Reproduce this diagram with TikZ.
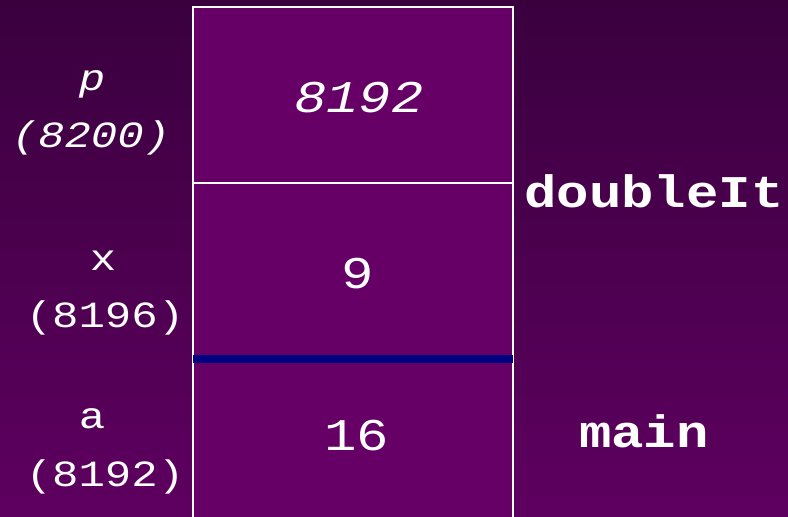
\documentclass[tikz,border=0pt]{standalone}
\usepackage{fontspec}
\usepackage{graphicx}
\setmonofont{Liberation Mono}
\definecolor{bgtop}{RGB}{58,0,62}
\definecolor{bgbot}{RGB}{94,0,96}
\definecolor{cellfill}{RGB}{102,0,102}
\definecolor{frameblue}{RGB}{0,0,128}
\newcommand{\sq}[1]{\scalebox{1}[0.84]{#1}}
\tikzset{
  lbl/.style={text=white,font=\fontsize{44}{44}\selectfont\ttfamily,anchor=base,inner sep=0pt},
  val/.style={text=white,font=\fontsize{54}{54}\selectfont\ttfamily,anchor=base,inner sep=0pt},
  fname/.style={text=white,font=\fontsize{54}{54}\selectfont\ttfamily\bfseries,anchor=base,inner sep=0pt},
  cell/.style={draw=white,line width=2pt,fill=cellfill}
}
\begin{document}
\begin{tikzpicture}[x=1pt,y=-1pt]
\useasboundingbox (0,0) rectangle (788,517);
\shade[top color=bgtop,bottom color=bgbot] (0,0) rectangle (788,517);
% cells
\draw[cell] (193,7) rectangle (513,183);
\draw[cell] (193,183) rectangle (513,358);
\draw[cell] (193,358) rectangle (513,530);
\draw[frameblue,line width=8pt] (193,358.5) -- (513,358.5);
% values
\node[val] (v1) at (359,112) {\sq{\itshape 8192}};
\node[val] (v2) at (358,288) {\sq{9}};
\node[val] (v3) at (357,450) {\sq{16}};
% labels
\node[lbl] (l1) at (92,90) {\sq{\itshape p}};
\node[lbl] (l1a) at (91,147) {\sq{\itshape (8200)}};
\node[lbl] (l2) at (103,270) {\sq{x}};
\node[lbl] (l2a) at (105,327) {\sq{(8196)}};
\node[lbl] (l3) at (92,428) {\sq{a}};
\node[lbl] (l3a) at (105,486) {\sq{(8192)}};
% function names
\node[fname] (f1) at (654,207) {\sq{doubleIt}};
\node[fname] (f2) at (644,447) {\sq{main}};
\end{tikzpicture}
\end{document}
